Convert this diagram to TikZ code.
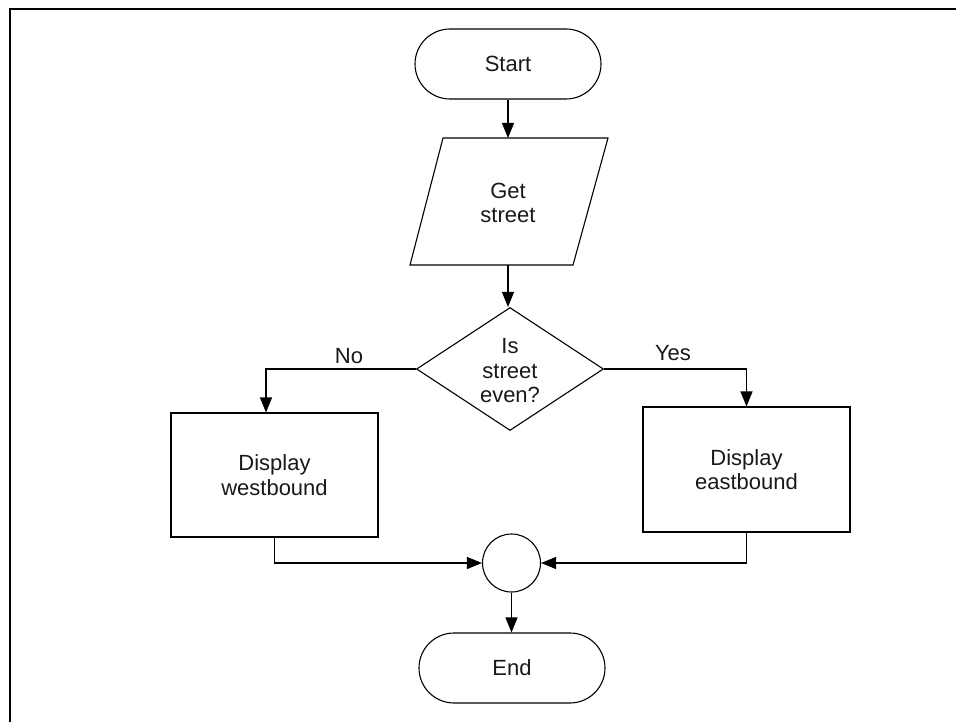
\documentclass[tikz,border=0pt]{standalone}
\usepackage{fontspec}
\setmainfont{Liberation Sans}
\usetikzlibrary{arrows.meta,shapes.geometric}
\begin{document}
\begin{tikzpicture}[x=1pt,y=-1pt,
  line/.style={line width=1.1pt},
  arr/.style={line width=1.1pt, -{Triangle[length=15pt,width=12pt]}},
  lbl/.style={font=\fontsize{22}{24.5}\selectfont, align=center, text=black!90},
  term/.style={draw, line width=1.1pt, rounded corners=35pt, minimum width=186pt, minimum height=70pt, inner sep=0pt},
  boxnode/.style={draw, line width=1.1pt, inner sep=0pt, minimum width=207pt},
  decnode/.style={draw, diamond, line width=1.1pt, inner sep=0pt, minimum width=187pt, minimum height=123pt},
  joinnode/.style={draw, circle, line width=1.1pt, inner sep=0pt, minimum size=58pt}
]
\useasboundingbox (0,0) rectangle (956,722);
\fill[white] (0,0) rectangle (956,722);
\draw[line width=2pt] (10,722) -- (10,9) -- (956,9);

% Start
\node[term, lbl] (start) at (508,64) {Start};

% Get street (parallelogram)
\coordinate (p1) at (410,265);
\coordinate (p2) at (443,138);
\coordinate (p3) at (608,138);
\coordinate (p4) at (573,265);
\draw[line] (p1) -- (p2) -- (p3) -- (p4) -- cycle;
\coordinate (gettop) at (508,138);
\coordinate (getbot) at (508,265);
\node[lbl] (get) at (508,203) {Get\\street};

% Decision
\node[decnode] (dec) at (510,369) {};
\node[lbl] (dectext) at (510,371) {Is\\street\\even?};

% Boxes
\node[boxnode, lbl, minimum height=124pt] (west) at (274.5,475) {Display\\westbound};
\node[boxnode, lbl, minimum height=125pt] (east) at (746.5,469.5) {Display\\eastbound};

% Join circle
\node[joinnode] (join) at (511.5,563) {};

% End
\node[term, lbl] (end) at (512,668) {End};

% Connectors
\draw[arr] (start.south) -- (gettop);
\draw[arr] (getbot) -- (getbot |- dec.north);
\draw[arr] (dec.west) -| ([xshift=-8.5pt]west.north);
\draw[arr] (dec.east) -| (east.north);
\draw[arr] (west.south) |- (join.west);
\draw[arr] (east.south) |- (join.east);
\draw[arr] (join.south) -- (join.south |- end.north);

% Labels
\node[lbl] (nolbl) at (349,356) {No};
\node[lbl] (yeslbl) at (673,353) {Yes};
\end{tikzpicture}
\end{document}
